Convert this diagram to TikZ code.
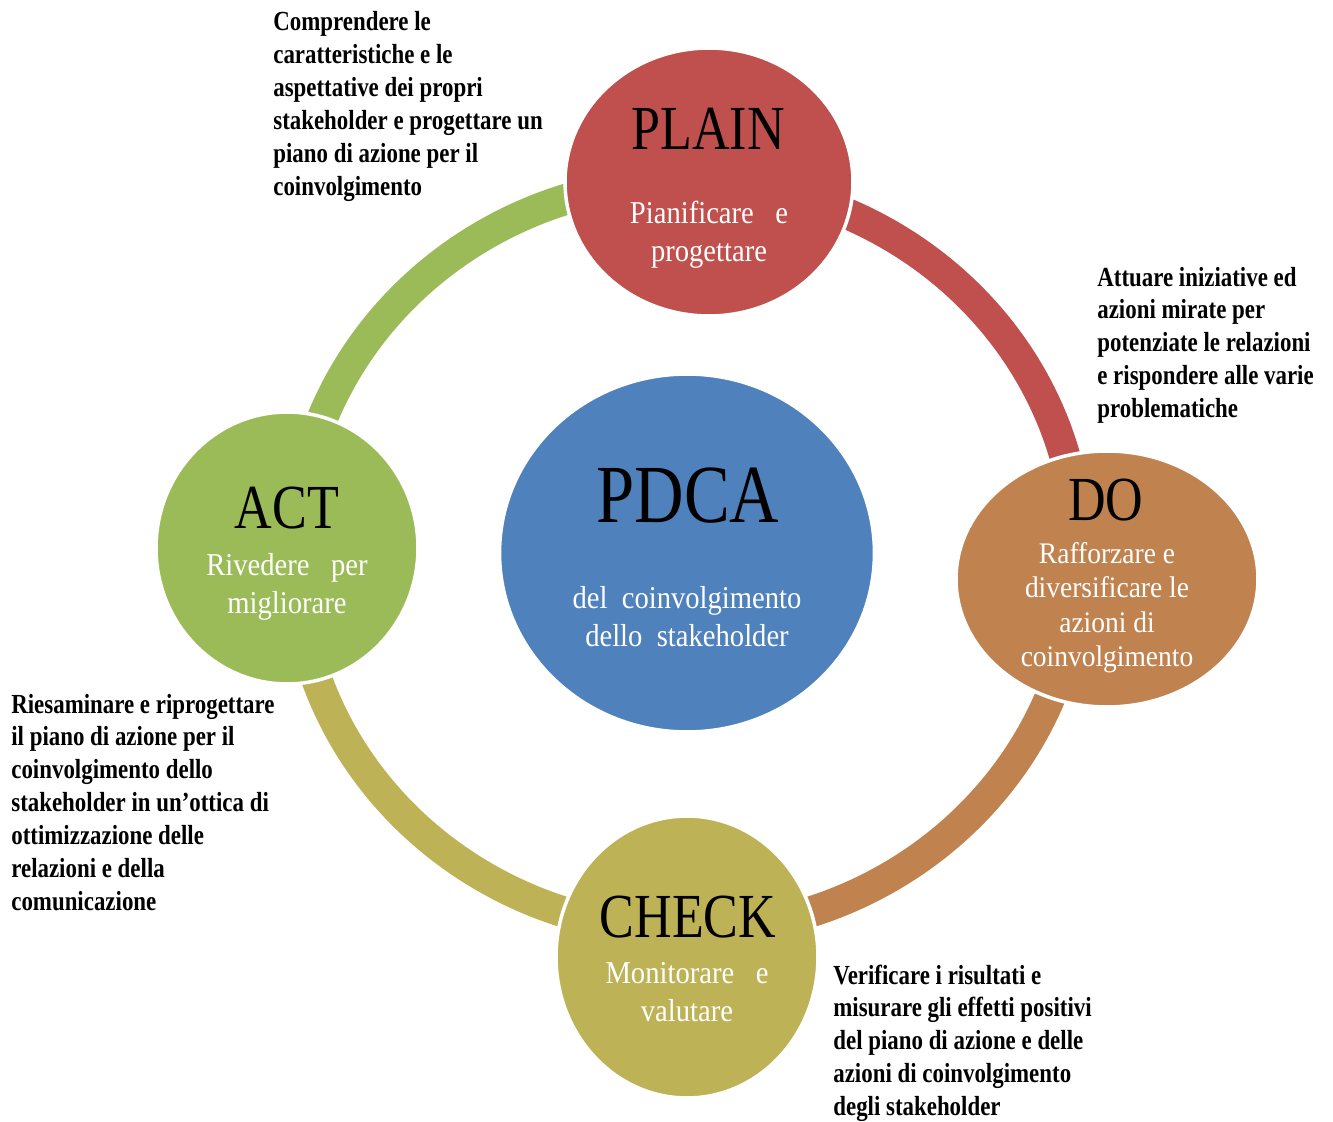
\documentclass[tikz,border=0pt]{standalone}
\usepackage{fontspec}
\setmainfont{Liberation Serif}
\newfontfamily\titlefont[FakeStretch=0.83]{Liberation Serif}
\newfontfamily\subfont[FakeStretch=0.9]{Liberation Serif}
\newfontfamily\dofont[FakeStretch=0.92]{Liberation Serif}
\newfontfamily\notefont[FakeStretch=0.83]{Liberation Serif}
\usetikzlibrary{shapes.geometric}
\definecolor{cRed}{RGB}{192,80,77}
\definecolor{cOrange}{RGB}{192,131,80}
\definecolor{cOlive}{RGB}{190,178,86}
\definecolor{cGreen}{RGB}{155,187,89}
\definecolor{cBlue}{RGB}{79,129,189}
\begin{document}
\begin{tikzpicture}[x=0.02cm,y=-0.02cm,
  disc/.style={ellipse, draw=white, line width=2pt, inner sep=0pt},
  ringseg/.style={line width=0.62cm},
  titletext/.style={anchor=base, inner sep=0pt, font=\titlefont\fontsize{35.7}{40}\selectfont},
  subtext/.style={anchor=base, inner sep=0pt, text=white, font=\subfont\fontsize{18.1}{22.1}\selectfont},
  notetext/.style={anchor=base west, inner sep=0pt, font=\notefont\bfseries\fontsize{15.7}{18.7}\selectfont}]
\fill[white] (0,0) rectangle (1333,1122);
\useasboundingbox (0,0) rectangle (1333,1122);
\coordinate (ring) at (687,556);
% ring segments
\draw[ringseg, cRed] (ring) ++(90:7.84cm and 7.5cm) arc[start angle=90, end angle=0, x radius=7.84cm, y radius=7.5cm];
\draw[ringseg, cOrange] (ring) ++(0:7.84cm and 7.5cm) arc[start angle=0, end angle=-90, x radius=7.84cm, y radius=7.5cm];
\draw[ringseg, cOlive] (ring) ++(-90:7.84cm and 7.5cm) arc[start angle=-90, end angle=-180, x radius=7.84cm, y radius=7.5cm];
\draw[ringseg, cGreen] (ring) ++(180:7.84cm and 7.5cm) arc[start angle=180, end angle=90, x radius=7.84cm, y radius=7.5cm];
% discs
\node[disc, fill=cRed, minimum width=5.76cm, minimum height=5.36cm] (plain) at (709,182) {};
\node[disc, fill=cOrange, minimum width=6.04cm, minimum height=5.12cm] (do) at (1107,579) {};
\node[disc, fill=cOlive, minimum width=5.24cm, minimum height=5.64cm] (check) at (687,957) {};
\node[disc, fill=cGreen, minimum width=5.24cm, minimum height=5.44cm] (act) at (287,548) {};
\node[disc, fill=cBlue, minimum width=7.5cm, minimum height=7.16cm] (pdca) at (687,553) {};
% titles
\node[titletext] (plainT) at (708,150) {PLAIN};
\node[titletext] (doT) at (1106,520) {DO};
\node[titletext] (checkT) at (688,937) {CHECK};
\node[titletext] (actT) at (287,528) {ACT};
\node[titletext, font=\titlefont\fontsize{47}{50}\selectfont] (pdcaT) at (688,522) {PDCA};
% subtitles
\node[subtext] (plainS) at (709,223) {\begin{tabular}[t]{@{}c@{}}Pianificare\ \ \ e\\progettare\end{tabular}};
\node[subtext, font=\dofont\fontsize{17}{19.7}\selectfont] (doS) at (1107,563) {\begin{tabular}[t]{@{}c@{}}Rafforzare e\\diversificare le\\azioni di\\coinvolgimento\end{tabular}};
\node[subtext] (checkS) at (687,983) {\begin{tabular}[t]{@{}c@{}}Monitorare\ \ \ e\\valutare\end{tabular}};
\node[subtext] (actS) at (287,575) {\begin{tabular}[t]{@{}c@{}}Rivedere\ \ \ per\\migliorare\end{tabular}};
\node[subtext] (pdcaS) at (687,608) {\begin{tabular}[t]{@{}c@{}}del\ \ coinvolgimento\\dello\ \ stakeholder\end{tabular}};
% notes
\node[notetext] (noteP) at (273,31) {\begin{tabular}[t]{@{}l@{}}Comprendere le\\caratteristiche e le\\aspettative dei propri\\stakeholder e progettare un\\piano di azione per il\\coinvolgimento\end{tabular}};
\node[notetext] (noteD) at (1097,286) {\begin{tabular}[t]{@{}l@{}}Attuare iniziative ed\\azioni mirate per\\potenziate le relazioni\\e rispondere alle varie\\problematiche\end{tabular}};
\node[notetext] (noteA) at (11,713) {\begin{tabular}[t]{@{}l@{}}Riesaminare e riprogettare\\il piano di azione per il\\coinvolgimento dello\\stakeholder in un’ottica di\\ottimizzazione delle\\relazioni e della\\comunicazione\end{tabular}};
\node[notetext] (noteC) at (833,984) {\begin{tabular}[t]{@{}l@{}}Verificare i risultati e\\misurare gli effetti positivi\\del piano di azione e delle\\azioni di coinvolgimento\\degli stakeholder\end{tabular}};
\end{tikzpicture}
\end{document}
